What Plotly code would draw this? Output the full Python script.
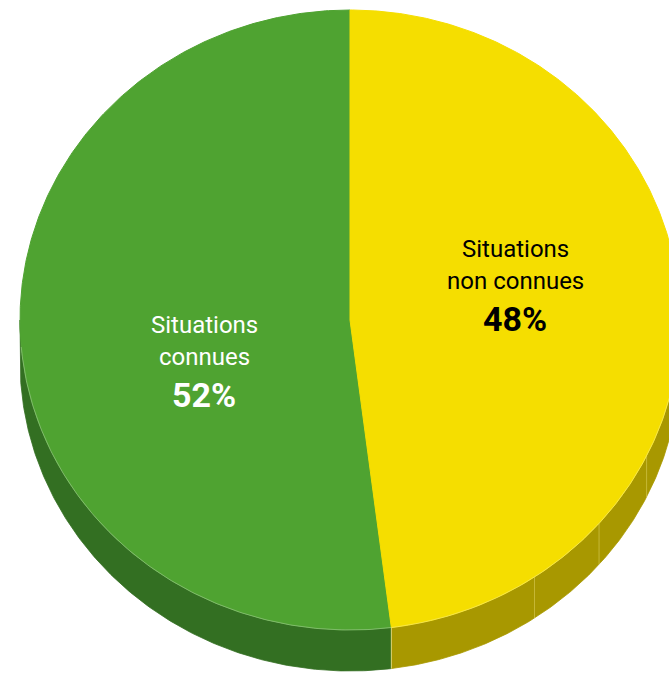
import numpy as np
import plotly.graph_objects as go

# Share of situations
labels = ["Situations\nconnues", "Situations\nnon connues"]
values = [52, 48]
top_colors = ["#4FA331", "#F5DE00"]
side_colors = ["#336F22", "#A89800"]
text_colors = ["#FFFFFF", "#000000"]

W, H = 669, 674
CX, CY = 350, 320          # centre of the top face
RX, RY = 330, 310          # ellipse radii of the top face
DEPTH = 41                 # thickness of the disc
FACET_STEP = 15.0          # angular width of the wall facets


def pt(t, dy=0.0):
    """Point on the top ellipse; t in degrees, clockwise from 12 o'clock."""
    r = np.radians(t)
    return CX + RX * np.sin(r), CY - RY * np.cos(r) + dy


# Slice angles: first slice runs counter-clockwise from the top,
# the second one clockwise, so they share the 12 o'clock edge.
total = float(sum(values))
sweep = [v / total * 360.0 for v in values]
split = sweep[1]                         # boundary angle (clockwise from top)
ranges = [(split, 360.0), (0.0, split)]  # [green, yellow]

fig = go.Figure()

# Side walls (only the front half, 90..270 degrees, is visible)
for (a, b), col in zip(ranges, side_colors):
    lo, hi = max(a, 90.0), min(b, 270.0)
    if hi <= lo:
        continue
    ts = np.linspace(lo, hi, 200)
    xt, yt = pt(ts)
    xb, yb = pt(ts[::-1], DEPTH)
    fig.add_trace(go.Scatter(
        x=np.concatenate([xt, xb]), y=np.concatenate([yt, yb]),
        fill="toself", fillcolor=col, mode="lines",
        line=dict(width=0.8, color=col), hoverinfo="skip", showlegend=False))

# Faint facet edges on the yellow wall
for t in np.arange(split - 11.8 - FACET_STEP, 90.0, -FACET_STEP):
    fx, fy = pt(t)
    fig.add_trace(go.Scatter(
        x=[fx, fx], y=[fy, fy + DEPTH], mode="lines",
        line=dict(width=1, color="rgba(235,225,120,0.45)"),
        hoverinfo="skip", showlegend=False))

# Light seam where the two slices meet on the wall
sx, sy = pt(split)
fig.add_trace(go.Scatter(
    x=[sx, sx], y=[sy, sy + DEPTH], mode="lines",
    line=dict(width=1, color="rgba(255,255,200,0.55)"),
    hoverinfo="skip", showlegend=False))

# Top faces
for (a, b), col, lab, v in zip(ranges, top_colors, labels, values):
    ts = np.linspace(a, b, 400)
    xs, ys = pt(ts)
    fig.add_trace(go.Scatter(
        x=np.concatenate([[CX], xs, [CX]]), y=np.concatenate([[CY], ys, [CY]]),
        fill="toself", fillcolor=col, mode="lines",
        line=dict(width=1, color=col), name=lab.replace("\n", " "),
        hoverinfo="name", showlegend=False))

# Thin highlight along the front rim of the top face
ts = np.linspace(95, 265, 300)
hx, hy = pt(ts)
fig.add_trace(go.Scatter(
    x=hx, y=hy, mode="lines",
    line=dict(width=0.8, color="rgba(255,255,255,0.35)"),
    hoverinfo="skip", showlegend=False))

# Labels at the middle of each slice
label_pos = [(204, 325), (515, 249)]
for lab, v, (lx, ly), tc in zip(labels, values, label_pos, text_colors):
    lines = lab.split("\n")
    for i, line in enumerate(lines):
        fig.add_annotation(x=lx, y=ly + i * 31.5, text=line, showarrow=False,
                           font=dict(family="Roboto", size=24, color=tc),
                           xanchor="center", yanchor="middle")
    fig.add_annotation(x=lx, y=ly + len(lines) * 31.5 + 7, text=f"<b>{v}%</b>",
                       showarrow=False,
                       font=dict(family="Roboto", size=34, color=tc),
                       xanchor="center", yanchor="middle")

fig.update_layout(
    width=W, height=H, margin=dict(l=0, r=0, t=0, b=0),
    paper_bgcolor="white", plot_bgcolor="white",
    xaxis=dict(range=[0, W], visible=False, fixedrange=True),
    yaxis=dict(range=[H, 0], visible=False, fixedrange=True),
)

fig.write_html("out.html")
